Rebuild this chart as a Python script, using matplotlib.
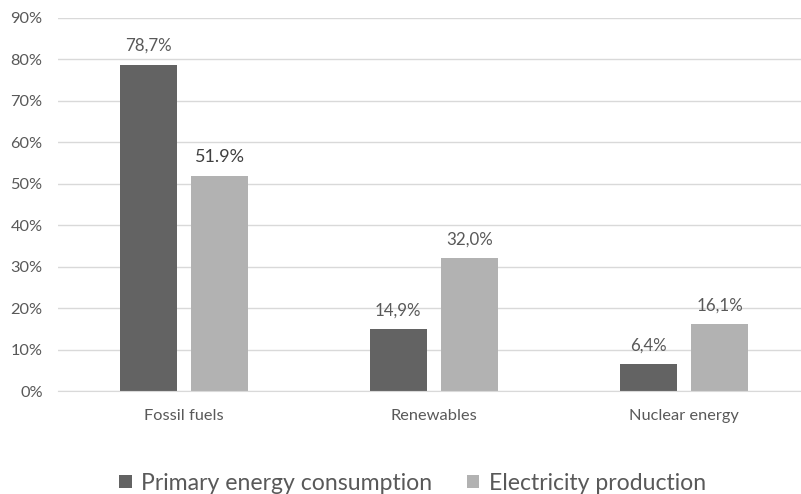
"""Share of energy sources in primary consumption and electricity production."""

import matplotlib
matplotlib.use("Agg")
import matplotlib.pyplot as plt
from matplotlib.patches import Patch

categories = ["Fossil fuels", "Renewables", "Nuclear energy"]
primary = [78.7, 14.9, 6.4]
electricity = [51.9, 32.0, 16.1]
primary_labels = ["78,7%", "14,9%", "6,4%"]
electricity_labels = ["51.9%", "32,0%", "16,1%"]
series_names = ["Primary energy consumption", "Electricity production"]
yticks = [0, 10, 20, 30, 40, 50, 60, 70, 80, 90]

DARK = "#636363"
LIGHT = "#b2b2b2"
TEXT = "#595959"
GRID = "#d9d9d9"

plt.rcParams["font.family"] = ["Lato", "DejaVu Sans"]

fig = plt.figure(figsize=(8.01, 4.94), dpi=100)
ax = fig.add_axes([0.0724, 0.2085, 0.9276, 0.7551])

x = list(range(len(categories)))
w = 0.228
off = 0.143
b1 = ax.bar([i - off for i in x], primary, width=w, color=DARK, zorder=3)
b2 = ax.bar([i + off for i in x], electricity, width=w, color=LIGHT, zorder=3)

for rect, lab in zip(b1, primary_labels):
    ax.annotate(lab, (rect.get_x() + rect.get_width() / 2, rect.get_height()),
                xytext=(0, 8), textcoords="offset points", ha="center", va="bottom",
                fontsize=12.2, color=TEXT)
for rect, lab in zip(b2, electricity_labels):
    big = lab == "51.9%"
    ax.annotate(lab, (rect.get_x() + rect.get_width() / 2, rect.get_height()),
                xytext=(0, 8), textcoords="offset points", ha="center", va="bottom",
                fontsize=13 if big else 12.2, color="#404040" if big else TEXT)

ax.set_ylim(0, 90)
ax.set_xlim(-0.504, -0.504 + 743 / 250)
ax.set_yticks(yticks)
ax.set_yticklabels([f"{t}%" for t in yticks])
ax.set_xticks(x)
ax.set_xticklabels(categories)
ax.tick_params(axis="both", length=0, labelsize=11.8, colors=TEXT)
ax.tick_params(axis="x", pad=13)
ax.tick_params(axis="y", pad=11)
ax.yaxis.grid(True, color=GRID, linewidth=1, zorder=0)
for side in ("top", "right", "left"):
    ax.spines[side].set_visible(False)
ax.spines["bottom"].set_color(GRID)
ax.spines["bottom"].set_zorder(4)

handles = [Patch(facecolor=DARK), Patch(facecolor=LIGHT)]
fig.legend(handles, series_names, loc="center", bbox_to_anchor=(0.515, 0.022),
           ncol=2, frameon=False, fontsize=16.6, handlelength=0.55, handleheight=0.55,
           handletextpad=0.4, columnspacing=1.5, labelcolor=TEXT)

fig.savefig("out.png", dpi=100)
